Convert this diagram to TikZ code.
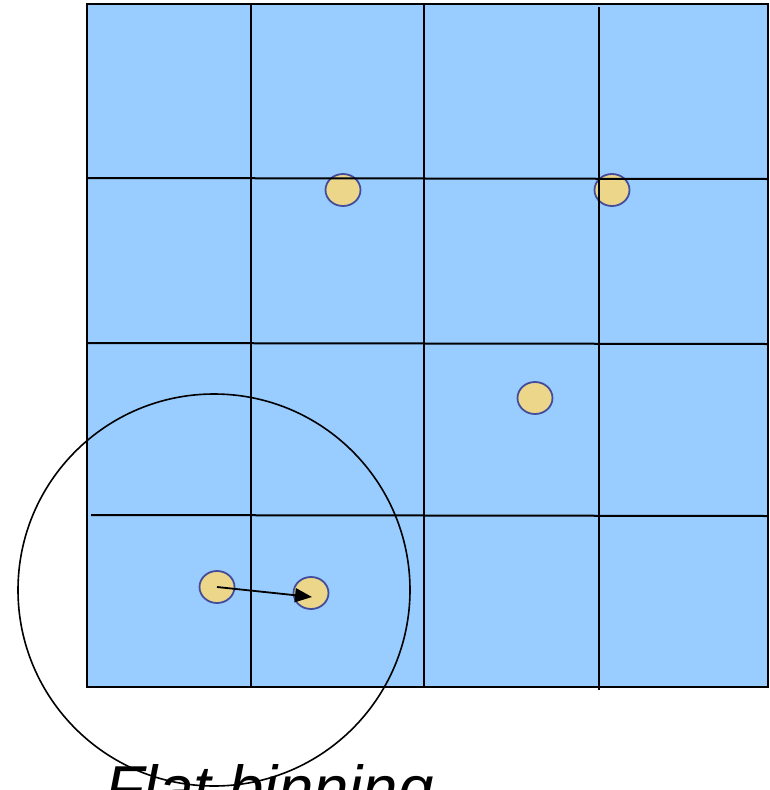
\documentclass[tikz,border=0pt]{standalone}
\usepackage{fontspec}
\setmainfont{Liberation Sans}
\usetikzlibrary{shapes.geometric,arrows.meta}
\definecolor{cellblue}{HTML}{99CCFF}
\definecolor{dotfill}{HTML}{EBD68A}
\definecolor{dotedge}{HTML}{444C9C}
\tikzset{
  gridline/.style={draw=black, line width=2pt},
  dotnode/.style={ellipse, draw=dotedge, fill=dotfill, line width=1.8pt, minimum width=35pt, minimum height=32pt, inner sep=0pt},
  ring/.style={draw=black, line width=1.6pt},
}
\begin{document}
\begin{tikzpicture}[x=1pt,y=-1pt]
\useasboundingbox (0,0) rectangle (769,790);
\fill[white] (0,0) rectangle (769,790);
% background square
\fill[cellblue] (87,4) rectangle (768,687);
% dots (below grid lines)
\node[dotnode] (d1) at (343,190) {};
\node[dotnode] (d2) at (612,190) {};
\node[dotnode] (d3) at (535,398) {};
\node[dotnode] (d4) at (217,587) {};
\node[dotnode] (d5) at (311,593) {};
% grid
\draw[gridline] (251,4) -- (251,687);
\draw[gridline] (424,4) -- (424,687);
\draw[gridline] (599,7) -- (599,690);
\draw[gridline] (87,178) -- (768,179);
\draw[gridline] (87,343) -- (768,344);
\draw[gridline] (91,515) -- (768,516);
\draw[black, line width=2.4pt] (87,4) rectangle (768,687);
% arrow
\draw[line width=1.8pt, -{Triangle[length=17pt,width=14pt]}] (d4.center) -- ([xshift=1pt,yshift=-4pt]d5.center);
% circle
\node[circle, ring, minimum size=392pt, inner sep=0pt] (zone) at (214,590) {};
% caption
\node[anchor=base west, inner sep=0pt, font=\fontsize{63.5}{70}\selectfont\itshape] (cap) at (105,810) {Flat binning};
\end{tikzpicture}
\end{document}
